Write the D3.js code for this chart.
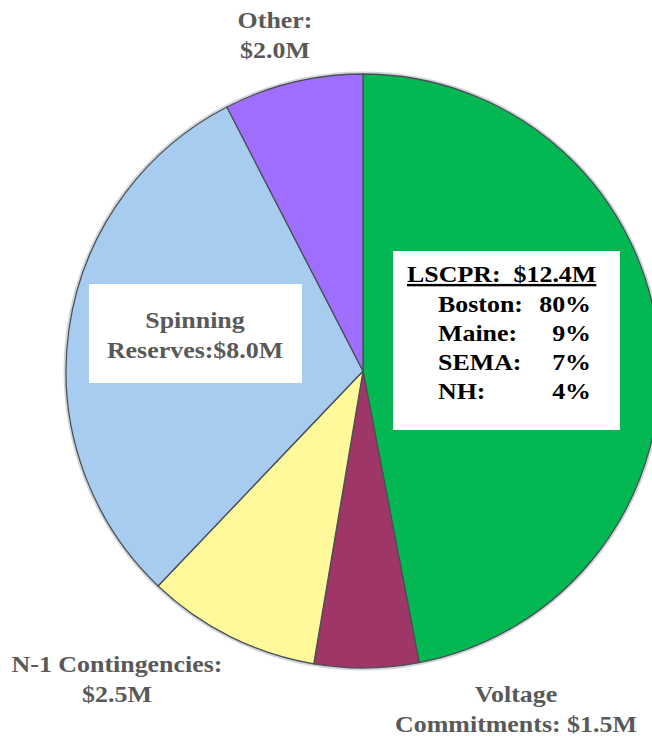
<!DOCTYPE html>
<html>
<head>
<meta charset="utf-8">
<script src="https://cdn.jsdelivr.net/npm/d3@7"></script>
<style>
  body { margin: 0; background: #fff; }
  svg { display: block; }
  text { font-family: "Liberation Serif", "Times New Roman", serif; font-weight: bold; white-space: pre; }
</style>
</head>
<body>
<svg id="drawing_region"></svg>
<script>
// slices, clockwise from 12 o'clock
const categories = ['LSCPR', 'Voltage Commitments', 'N-1 Contingencies', 'Spinning Reserves', 'Other'];
const values = [12.4, 1.5, 2.5, 8.0, 2.0];
const colors = ['#03b852', '#9e3668', '#fefa9c', '#a7ccf0', '#a06efe'];

// LSCPR breakdown
const regions = ['Boston:', 'Maine:', 'SEMA:', 'NH:'];
const regionShares = [80, 9, 7, 4];

const config = {
    parent: '#drawing_region',
    width: 652,
    height: 736,
    cx: 363,
    cy: 371,
    radius: 297,
    stretch: 1.08,   // the original lettering is a bit wide
};

const data = categories.map((c, i) => ({ label: c, value: values[i], color: colors[i] }));

const svg = d3.select(config.parent)
    .attr('width', config.width)
    .attr('height', config.height);

const chart = svg.append('g')
    .attr('transform', `translate(${config.cx}, ${config.cy})`);

const pie = d3.pie()
    .sort(null)
    .value(d => d.value)
    .startAngle(0)
    .endAngle(2 * Math.PI);

const arc = d3.arc()
    .innerRadius(0)
    .outerRadius(config.radius);

const arcs = pie(data);

// soft outer rim
chart.append('circle')
    .attr('r', config.radius + 1.5)
    .attr('fill', 'none')
    .attr('stroke', '#d3d7dc')
    .attr('stroke-width', 2);

chart.selectAll('path.slice')
    .data(arcs)
    .enter()
    .append('path')
    .attr('class', 'slice')
    .attr('d', arc)
    .attr('fill', d => d.data.color)
    .attr('stroke', '#4a4f55')
    .attr('stroke-width', 1.3)
    .attr('stroke-linejoin', 'round');

const fmt = v => `$${v.toFixed(1)}M`;
const grey = '#595959';

// white label boxes
const boxes = [
    { x: 393, y: 251, w: 227, h: 179 },
    { x: 89, y: 284, w: 213, h: 99 },
];
svg.selectAll('rect.box')
    .data(boxes)
    .enter()
    .append('rect')
    .attr('class', 'box')
    .attr('x', d => d.x)
    .attr('y', d => d.y)
    .attr('width', d => d.w)
    .attr('height', d => d.h)
    .attr('fill', '#fff');

// helper: stretched text line
function addText(x, y, str, opts) {
    const g = svg.append('g')
        .attr('transform', `translate(${x}, ${y}) scale(${config.stretch}, 1)`);
    const t = g.append('text')
        .attr('text-anchor', opts.anchor || 'start')
        .attr('font-size', (opts.size || 24) + 'px')
        .attr('fill', opts.color || grey)
        .text(str);
    if (opts.underline) t.style('text-decoration', 'underline');
    return t;
}

// outside / box labels (grey)
const labels = [
    { x: 275, y: 28, lines: ['Other:', fmt(values[4])] },
    { x: 117, y: 672, lines: ['N-1 Contingencies:', fmt(values[2])] },
    { x: 516, y: 702, lines: ['Voltage', `Commitments: ${fmt(values[1])}`] },
    { x: 195, y: 328, lines: ['Spinning', `Reserves:${fmt(values[3])}`] },
];

labels.forEach(l => {
    l.lines.forEach((s, k) => addText(l.x, l.y + k * 30, s, { anchor: 'middle', size: 24 }));
});

// LSCPR box
addText(407, 282, `LSCPR:  ${fmt(values[0])}`, { size: 24, color: '#000', underline: true });

regions.forEach((r, i) => {
    addText(438, 312 + i * 29, r, { size: 24, color: '#000' });
    addText(591, 312 + i * 29, regionShares[i] + '%', { size: 24, color: '#000', anchor: 'end' });
});
</script>
</body>
</html>
